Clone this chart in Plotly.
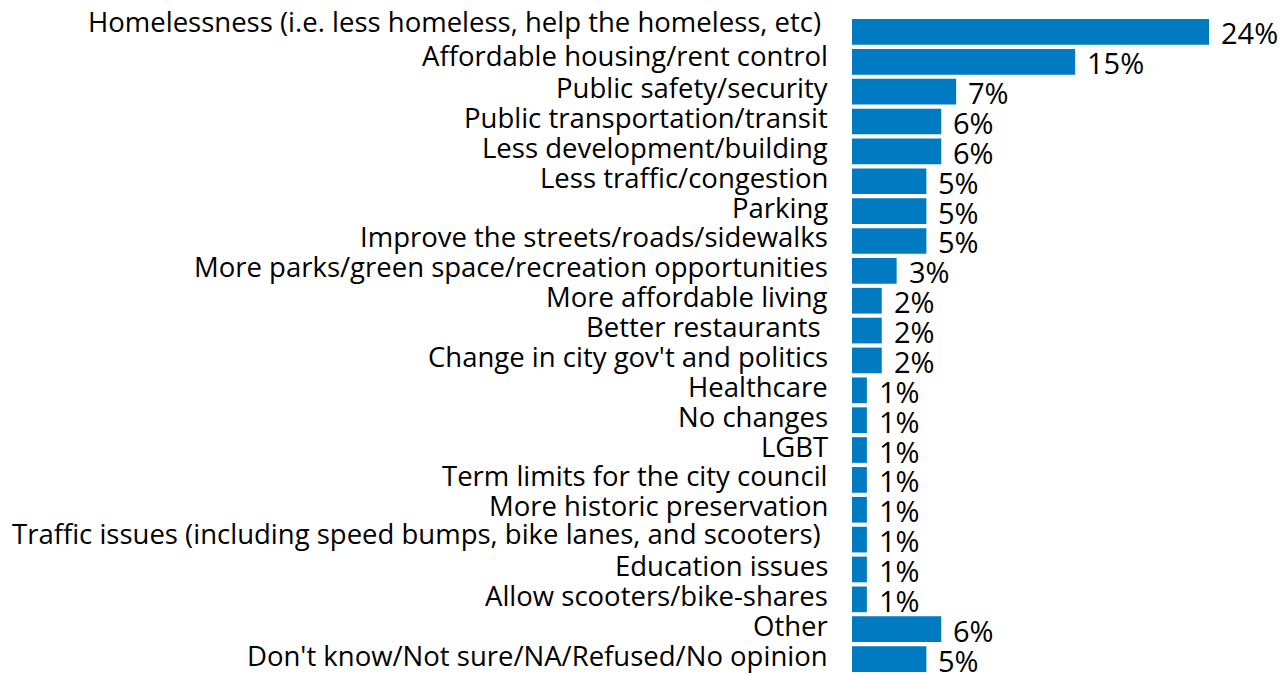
import plotly.graph_objects as go

# Survey responses: most important change wanted in the city
categories = [
    "Homelessness (i.e. less homeless, help the homeless, etc)\u00a0",
    "Affordable housing/rent control",
    "Public safety/security",
    "Public transportation/transit",
    "Less development/building",
    "Less traffic/congestion",
    "Parking",
    "Improve the streets/roads/sidewalks",
    "More parks/green space/recreation opportunities",
    "More affordable living",
    "Better restaurants\u00a0",
    "Change in city gov't and politics",
    "Healthcare",
    "No changes",
    "LGBT",
    "Term limits for the city council",
    "More historic preservation",
    "Traffic issues (including speed bumps, bike lanes, and scooters)\u00a0",
    "Education issues",
    "Allow scooters/bike-shares",
    "Other",
    "Don't know/Not sure/NA/Refused/No opinion",
]
percent = [24, 15, 7, 6, 6, 5, 5, 5, 3, 2, 2, 2, 1, 1, 1, 1, 1, 1, 1, 1, 6, 5]

FONT = "Open Sans, sans-serif"
BAR_COLOR = "#007AC0"

# a few category captions sit a little higher than the rest
LABEL_LIFT = {0: 10, 1: 6, 17: 6}

fig = go.Figure(
    go.Bar(
        x=percent,
        y=categories,
        orientation="h",
        marker=dict(color=BAR_COLOR, line=dict(width=0)),
        hoverinfo="skip",
    )
)

for i, (cat, val) in enumerate(zip(categories, percent)):
    # category caption, right-aligned left of the bars
    fig.add_annotation(
        x=0, y=cat, text=cat, showarrow=False,
        xanchor="right", yanchor="middle",
        xshift=-22, yshift=LABEL_LIFT.get(i, 4),
        font=dict(family=FONT, size=27.5, color="black"),
    )
    # value label just past the end of each bar
    fig.add_annotation(
        x=val, y=cat, text=f"{val}%", showarrow=False,
        xanchor="left", yanchor="middle", xshift=10, yshift=-1,
        font=dict(family=FONT, size=29, color="black"),
    )

fig.update_layout(
    width=1288, height=675,
    margin=dict(l=852, r=0, t=17, b=1),
    paper_bgcolor="white", plot_bgcolor="white",
    bargap=0.14,
    showlegend=False,
    font=dict(family=FONT, size=26, color="black"),
)
fig.update_xaxes(range=[0, 29.31], visible=False, automargin=False)
fig.update_yaxes(
    categoryorder="array", categoryarray=categories,
    range=[len(categories) - 0.5, -0.5],
    automargin=False, showticklabels=False,
    showgrid=False, showline=False, zeroline=False, ticks="",
)

fig.write_html("out.html", config={"displayModeBar": False})
